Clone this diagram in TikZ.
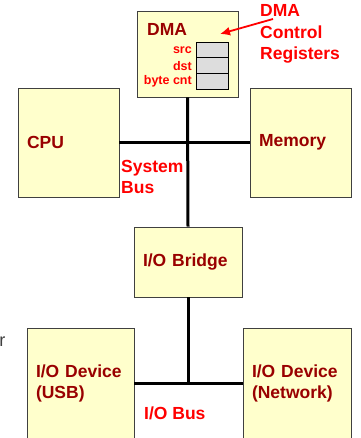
\documentclass[tikz,border=0pt]{standalone}
\usepackage{fontspec}
\setmainfont{Liberation Sans}
\usepackage{tikz}
\usetikzlibrary{positioning,calc,arrows.meta}
\definecolor{boxfill}{HTML}{FFFFCC}
\definecolor{darkred}{HTML}{990000}
\definecolor{regfill}{HTML}{DDDDDD}

\begin{document}
\begin{tikzpicture}[x=1pt,y=-1pt,>={Latex[length=10pt,width=9pt]},
						box/.style={draw=black!75, fill=boxfill, line width=0.8pt, align=left, inner xsep=9pt,
							text=darkred, font=\bfseries\fontsize{17.5}{21}\selectfont},
						reg/.style={draw, fill=regfill, line width=0.8pt, minimum width=32pt,
							minimum height=15.7pt, inner sep=0pt, outer sep=0pt},
						reglabel/.style={text=red, inner sep=1pt, font=\bfseries\fontsize{12.5}{14}\selectfont},
						buslabel/.style={text=red, align=left, inner sep=0pt, font=\bfseries\fontsize{17.5}{20.5}\selectfont},
						bus/.style={line width=3pt}]

						\useasboundingbox (0,0) rectangle (360,438);

						%%% DMA engine & its registers
						\node at (187.5, 54) [box, minimum width=101pt, minimum height=86pt] (dma) {};
						\node at (147, 29) [anchor=west, inner sep=0pt, text=darkred, font=\bfseries\fontsize{17.5}{21}\selectfont] (dmaname) {DMA};
						\node at (212, 49.85) [reg] (src) {};
						\node [below=0pt of src, reg] (dst) {};
						\node [below=0pt of dst, reg] (cnt) {};
						\node [left=3pt of src, reglabel] (srclabel) {src};
						\node [left=3pt of dst, reglabel] (dstlabel) {dst};
						\node [left=3pt of cnt, reglabel] (cntlabel) {byte cnt};

						\node at (260, 34) [anchor=west, buslabel, font=\bfseries\fontsize{17.5}{21.5}\selectfont] (regnote) {DMA\\Control\\Registers};
						\coordinate (notetail) at (273, 19);
						\coordinate (notehead) at (220, 34);
						\path [red, ->, line width=1.8pt] (notetail) edge (notehead);

						%%% System bus
						\node at (68.5, 142.5) [box, text width=83pt, minimum height=109pt] (cpu) {CPU};
						\node at (300.5, 142.5) [box, text width=83pt, minimum height=109pt] (memory) {Memory};
						\node at (188, 262) [box, text width=90pt, minimum height=70pt] (bridge) {I/O Bridge};
						\draw [bus] (cpu.east) -- (memory.west);
						\draw [bus] (dma.south) -- (bridge.north);
						\node at (121, 177) [anchor=west, buslabel] (sysbus) {System\\Bus};

						%%% I/O bus
						\node at (80.5, 383) [box, text width=89pt, minimum height=110pt] (usb) {I/O Device\\(USB)};
						\node at (297, 383) [box, text width=90pt, minimum height=110pt] (network) {I/O Device\\(Network)};
						\draw [bus] (usb.east) -- (network.west);
						\draw [bus] (bridge.south) -- (bridge.south |- usb.east);
						\node at (144, 413) [anchor=west, buslabel] (iobus) {I/O Bus};

						%% cut-off text at the left edge
						\node at (5.5, 346) [anchor=base east, inner sep=0pt, text=black!75, font=\fontsize{18}{21}\selectfont] (stray) {r};
					\end{tikzpicture}
\end{document}
